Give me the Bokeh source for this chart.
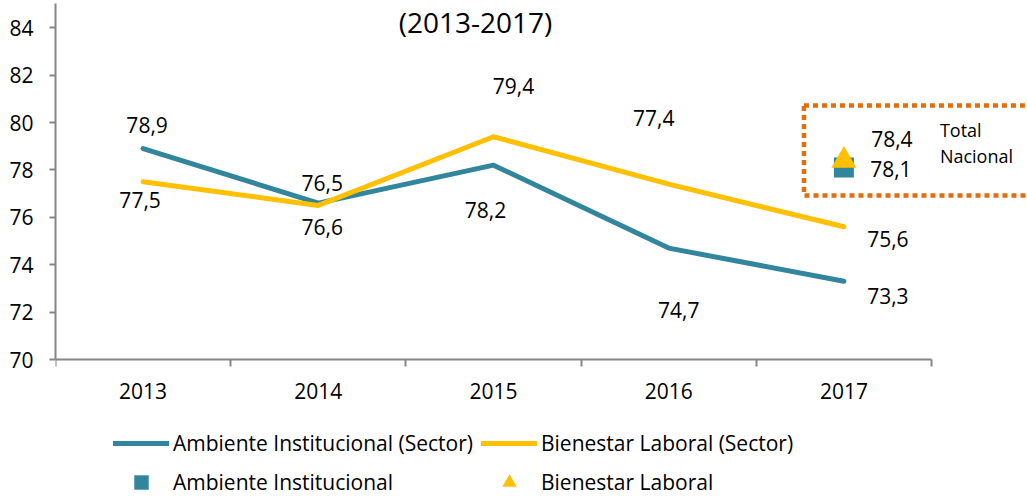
from bokeh.plotting import figure
from bokeh.models import (Range1d, FixedTicker, ColumnDataSource, Legend, LegendItem,
                          Label, BoxAnnotation)
from bokeh.core.properties import value
from bokeh.embed import file_html
from bokeh.resources import INLINE

# ---------------- data ----------------
years = ["2013", "2014", "2015", "2016", "2017"]
ambiente_sector = [78.9, 76.6, 78.2, 74.7, 73.3]
bienestar_sector = [77.5, 76.5, 79.4, 77.4, 75.6]
ambiente_total = 78.1
bienestar_total = 78.4
y_ticks = [70, 72, 74, 76, 78, 80, 82, 84]
title_text = "(2013-2017)"
total_words = ["Total", "Nacional"]
legend_line_labels = ["Ambiente Institucional (Sector)", "Bienestar Laboral (Sector)"]
legend_marker_labels = ["Ambiente Institucional", "Bienestar Laboral"]

# ---------------- style ----------------
TEAL = "#31859C"
YELLOW = "#FFC000"
ORANGE = "#E46C0A"
GRAY = "#868686"
BLACK = "#000000"
FONT = "Open Sans"

W, H = 1027, 499
LEFT = 55
AXIS_Y_PX = 359          # screen row of the x axis
PX_PER_CAT = 175.2
PX_PER_UNIT = 23.7
frame_w = W - LEFT

xs = list(range(len(years)))
x_start = -0.5
x_end = x_start + frame_w / PX_PER_CAT
y_base = y_ticks[0]
y_end = y_base + AXIS_Y_PX / PX_PER_UNIT
y_start = y_base - (H - AXIS_Y_PX) / PX_PER_UNIT
y_axis_top = y_base + (AXIS_Y_PX - 3) / PX_PER_UNIT

p = figure(width=W, height=H, x_range=Range1d(x_start, x_end),
           y_range=Range1d(y_start, y_end), output_backend="svg",
           toolbar_location=None, min_border_left=LEFT, min_border_right=0,
           min_border_top=0, min_border_bottom=0)
p.outline_line_color = None
p.xgrid.visible = False
p.ygrid.visible = False
p.background_fill_color = "white"

# x axis: sits at y = 70, labels at category centres, ticks at boundaries
xa = p.xaxis[0]
xa.fixed_location = y_base
xa.bounds = (xs[0] - 0.5, xs[-1] + 0.5)
xa.ticker = FixedTicker(ticks=xs, minor_ticks=[i - 0.5 for i in range(len(years) + 1)])
xa.major_label_overrides = {i: y for i, y in enumerate(years)}
xa.axis_line_color = GRAY
xa.axis_line_width = 2
xa.major_tick_line_color = None
xa.major_tick_out = 0
xa.major_tick_in = 0
xa.minor_tick_line_color = GRAY
xa.minor_tick_line_width = 2
xa.minor_tick_in = 0
xa.minor_tick_out = 7
xa.major_label_text_font = FONT
xa.major_label_text_font_size = "21px"
xa.major_label_text_color = BLACK
xa.major_label_standoff = 16

ya = p.yaxis[0]
ya.bounds = (y_base, y_axis_top)
ya.ticker = FixedTicker(ticks=y_ticks)
ya.axis_line_color = GRAY
ya.axis_line_width = 2
ya.major_tick_line_color = GRAY
ya.major_tick_line_width = 2
ya.major_tick_in = 0
ya.major_tick_out = 6
ya.minor_tick_line_color = None
ya.major_label_text_font = FONT
ya.major_label_text_font_size = "21px"
ya.major_label_text_color = BLACK
ya.major_label_standoff = 16

src = ColumnDataSource(dict(x=xs, a=ambiente_sector, b=bienestar_sector))
la = p.line("x", "a", source=src, line_color=TEAL, line_width=5,
            line_cap="round", line_join="round")
lb = p.line("x", "b", source=src, line_color=YELLOW, line_width=5,
            line_cap="round", line_join="round")

tx = xs[-1]
sq = p.scatter(x=[tx], y=[ambiente_total], marker="square", size=20,
               fill_color=TEAL, line_color=None)
tr = p.scatter(x=[tx], y=[bienestar_total], marker="triangle", size=25,
               fill_color=YELLOW, line_color=None)

def fmt(v):
    return f"{v:.1f}".replace(".", ",")

lab_dx = [4, 4, -8, 10, 44] + [-3, 4, 20, -15, 44] + [48, 47]
lab_dy = [-24, 24, 45, 62, 15] + [18, -22, -51, -66, 12] + [-21, 1]
lab_x = xs + xs + [tx, tx]
lab_y = ambiente_sector + bienestar_sector + [bienestar_total, ambiente_total]
lab_src = ColumnDataSource(dict(x=lab_x, y=lab_y, t=[fmt(v) for v in lab_y],
                                dx=lab_dx, dy=lab_dy))
p.text("x", "y", text="t", source=lab_src, x_offset="dx", y_offset="dy",
       text_align="center", text_baseline="middle", text_font=value(FONT),
       text_font_size="21px", text_color=BLACK)

tn_src = ColumnDataSource(dict(x=[tx, tx], y=[bienestar_total, bienestar_total],
                               t=total_words, dx=[96, 96], dy=[-30, -4]))
p.text("x", "y", text="t", source=tn_src, x_offset="dx", y_offset="dy",
       text_align="left", text_baseline="middle", text_font=value(FONT),
       text_font_size="18px", text_color=BLACK)

box = BoxAnnotation(left=tx - 0.228, right=x_end + 1,
                    top=bienestar_total + 2.32, bottom=ambiente_total - 1.18,
                    fill_alpha=0, line_color=ORANGE, line_width=4.5, line_dash="5 4",
                    line_alpha=1)
p.add_layout(box)

p.add_layout(Label(x=475 - LEFT, y=H - 21, x_units="screen", y_units="screen",
                   text=title_text, text_align="center", text_baseline="alphabetic",
                   text_font=FONT, text_font_size="28px", text_color=BLACK))

common = dict(orientation="horizontal", glyph_width=56, label_standoff=4,
              label_width=300, spacing=8, padding=0, margin=0,
              border_line_color=None, background_fill_alpha=0,
              label_text_font=FONT, label_text_font_size="21px",
              label_text_color=BLACK)
leg1 = Legend(items=[LegendItem(label=legend_line_labels[0], renderers=[la]),
                     LegendItem(label=legend_line_labels[1], renderers=[lb])],
              location=(113 - LEFT, H - 443 - 15), glyph_height=30, label_height=30,
              **common)
leg2 = Legend(items=[LegendItem(label=legend_marker_labels[0], renderers=[sq]),
                     LegendItem(label=legend_marker_labels[1], renderers=[tr])],
              location=(113 - LEFT, H - 482 - 18), glyph_height=36, label_height=36,
              **common)
p.add_layout(leg1)
p.add_layout(leg2)

open("out.html", "w").write(file_html(p, INLINE))
